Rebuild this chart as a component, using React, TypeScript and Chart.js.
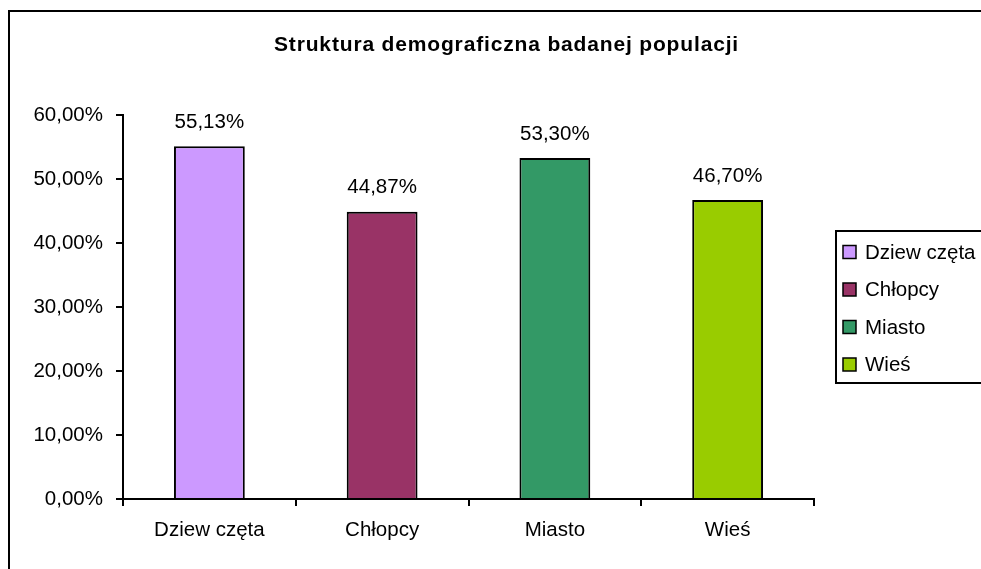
import React, { useEffect, useRef } from "react";
import { Chart, registerables } from "chart.js";

Chart.register(...registerables);

const TITLE = "Struktura demograficzna badanej populacji";
const categories = ["Dziew częta", "Chłopcy", "Miasto", "Wieś"];
const values = [55.13, 44.87, 53.3, 46.7];
const colors = ["#CC99FF", "#993366", "#339966", "#99CC00"];
const yMin = 0;
const yMax = 60;
const yStep = 10;

const FONT = "'Liberation Sans', Arial, sans-serif";
const fmt = (v: number) => v.toFixed(2).replace(".", ",") + "%";

export default function App() {
  const ref = useRef<HTMLCanvasElement | null>(null);

  useEffect(() => {
    if (!ref.current) return;

    const frame = {
      id: "frame",
      beforeDraw(chart: any) {
        const ctx = chart.ctx;
        ctx.save();
        ctx.fillStyle = "#ffffff";
        ctx.fillRect(0, 0, chart.width, chart.height);
        ctx.strokeStyle = "#000";
        ctx.lineWidth = 2;
        ctx.strokeRect(9, 11, 1100, 700);
        ctx.fillStyle = "#000";
        ctx.font = `bold 21px ${FONT}`;
        ctx.textAlign = "left";
        ctx.textBaseline = "middle";
        // fit title to the reference width with letter spacing
        const target = 464;
        const base = ctx.measureText(TITLE).width;
        const ls = Math.max(0, (target - base) / (TITLE.length - 1));
        (ctx as any).letterSpacing = `${ls.toFixed(2)}px`;
        ctx.fillText(TITLE, 506 - target / 2, 45);
        ctx.restore();
      },
      afterDatasetsDraw(chart: any) {
        const ctx = chart.ctx;
        const meta = chart.getDatasetMeta(0);
        ctx.save();
        ctx.fillStyle = "#000";
        ctx.font = `20.5px ${FONT}`;
        ctx.textAlign = "center";
        ctx.textBaseline = "middle";
        meta.data.forEach((el: any, i: number) => {
          ctx.fillText(fmt(values[i]), el.x, el.y - 24);
        });
        // legend
        ctx.strokeStyle = "#000";
        ctx.lineWidth = 2;
        ctx.strokeRect(836, 231, 200, 152);
        ctx.font = `20.5px ${FONT}`;
        ctx.textAlign = "left";
        categories.forEach((c, i) => {
          const cy = 252 + i * 37.5;
          ctx.fillStyle = colors[i];
          ctx.fillRect(843, cy - 6.5, 13, 13);
          ctx.lineWidth = 1.5;
          ctx.strokeRect(843, cy - 6.5, 13, 13);
          ctx.fillStyle = "#000";
          ctx.fillText(c, 865, cy + 1);
        });
        ctx.restore();
      },
    };

    const chart = new Chart(ref.current, {
      type: "bar",
      data: {
        labels: categories,
        datasets: [
          {
            data: values,
            backgroundColor: colors,
            borderColor: "#000",
            borderWidth: 2,
            barPercentage: 0.41,
            categoryPercentage: 1,
          },
        ],
      },
      options: {
        responsive: false,
        animation: false,
        layout: { padding: { top: 115, right: 167, bottom: 0, left: 0 } },
        plugins: {
          legend: { display: false },
          tooltip: { enabled: false },
          title: { display: false },
        },
        scales: {
          x: {
            offset: true,
            grid: {
              offset: true,
              drawOnChartArea: false,
              drawTicks: true,
              tickLength: 7,
              color: "#000",
              lineWidth: 2,
            },
            border: { display: true, color: "#000", width: 2 },
            ticks: {
              color: "#000",
              font: { family: FONT, size: 20.5 },
              padding: 12,
            },
            afterFit: (s: any) => {
              s.height = 70;
            },
          },
          y: {
            min: yMin,
            max: yMax,
            grid: {
              drawOnChartArea: false,
              drawTicks: true,
              tickLength: 7,
              color: "#000",
              lineWidth: 2,
            },
            border: { display: true, color: "#000", width: 2 },
            ticks: {
              stepSize: yStep,
              color: "#000",
              font: { family: FONT, size: 20.5 },
              padding: 13,
              callback: (v: any) => fmt(Number(v)),
            },
            afterFit: (s: any) => {
              s.width = 123;
            },
          },
        },
      },
      plugins: [frame],
    });
    return () => chart.destroy();
  }, []);

  return (
    <div style={{ position: "fixed", left: 0, top: 0, width: 981, height: 569, background: "#fff" }}>
      <canvas ref={ref} width={981} height={569} style={{ display: "block", width: 981, height: 569 }} />
    </div>
  );
}
